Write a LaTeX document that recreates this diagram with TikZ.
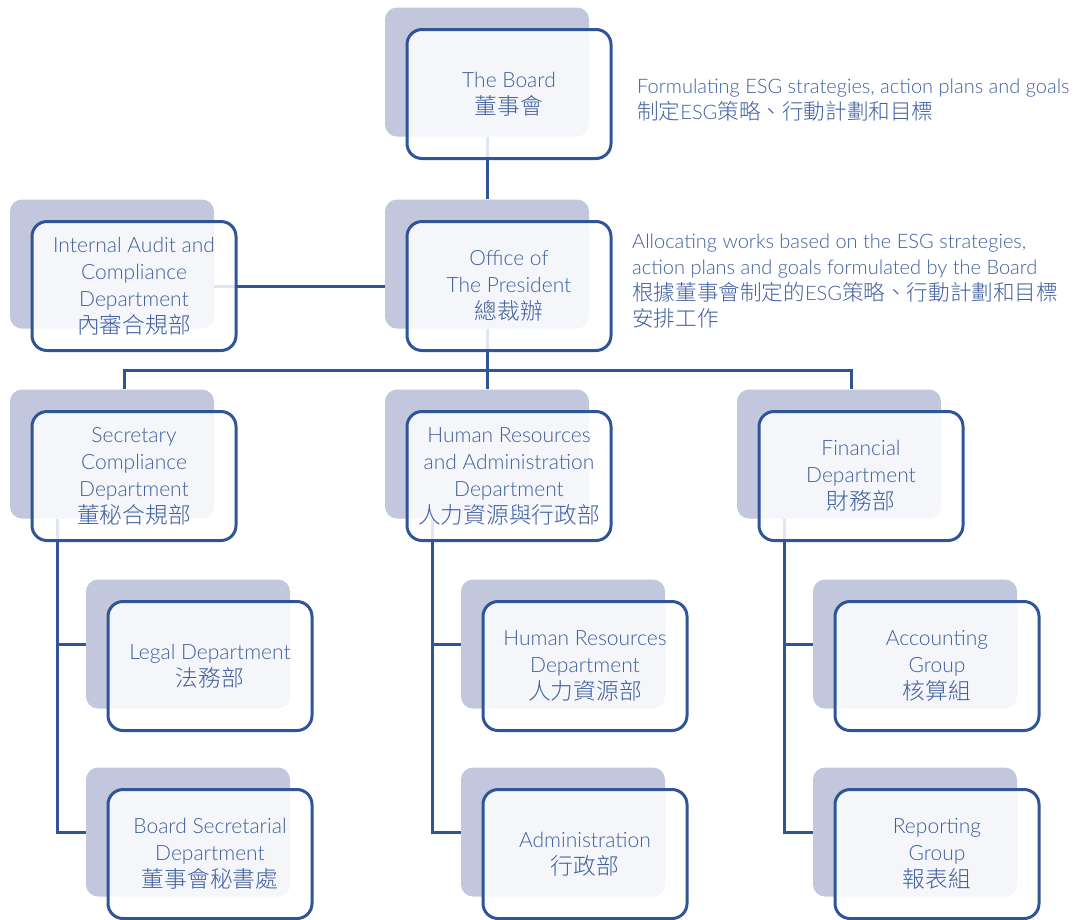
\documentclass[tikz,border=0pt]{standalone}
\usepackage{fontspec}
\setmainfont{Lato}[UprightFont=* Light]
\newfontfamily\cjk{Noto Sans CJK TC}[UprightFont=* Light,Scale=1.08]
\usepackage{xcolor}
\definecolor{navy}{HTML}{2F5597}
\definecolor{lavender}{HTML}{C2C7DD}
\definecolor{ink}{HTML}{3F5F9E}
\pgfdeclarelayer{bg}
\pgfsetlayers{bg,main}
\tikzset{
    shadowbox/.style={fill=lavender,rounded corners=12,
        minimum width=204,minimum height=129,inner sep=0},
    deptbox/.style={draw=navy,line width=3,fill=white,fill opacity=0.85,
        text opacity=1,rounded corners=15,minimum width=204,minimum height=129,
        inner sep=0,text=ink,align=center,font=\fontsize{21}{27}\selectfont},
    link/.style={draw=navy,line width=3},
    note/.style={text=ink,align=left,anchor=west,inner sep=0,
        font=\fontsize{20}{26}\selectfont},
}
\newcommand{\dept}[4] {
    \node[shadowbox] (#1-s) at (#2,#3) {};
    \node[deptbox] (#1) at ({#2+22},{#3+22}) {#4};
}

\begin{document}
\begin{tikzpicture}[x=1pt,y=-1pt]
        \useasboundingbox (0,0) rectangle (1083,919);
        \dept{board}{487}{72}{The Board\\{\cjk 董事會}}
        \dept{office}{487}{264}{Office of\\The President\\{\cjk 總裁辦}}
        \dept{audit}{112}{264}{Internal Audit and\\Compliance\\Department\\{\cjk 內審合規部}}
        \dept{sec}{112}{454}{Secretary\\Compliance\\Department\\{\cjk 董秘合規部}}
        \dept{hr}{487}{454}{Human Resources\\and Administration\\Department\\{\cjk 人力資源與行政部}}
        \dept{fin}{839}{454}{Financial\\Department\\{\cjk 財務部}}
        \dept{legal}{188}{644}{Legal Department\\{\cjk 法務部}}
        \dept{hrdept}{563}{644}{Human Resources\\Department\\{\cjk 人力資源部}}
        \dept{acct}{915}{644}{Accounting\\Group\\{\cjk 核算組}}
        \dept{boardsec}{188}{832}{Board Secretarial\\Department\\{\cjk 董事會秘書處}}
        \dept{admin}{563}{832}{Administration\\{\cjk 行政部}}
        \dept{report}{915}{832}{Reporting\\Group\\{\cjk 報表組}}

        % side notes
        \node[note] (goal) at (637,100)
            {Formulating ESG strategies, action plans and goals\\{\cjk 制定}ESG{\cjk 策略、行動計劃和目標}};
        \node[note] (task) at (632,281)
            {Allocating works based on the ESG strategies,\\action plans and goals formulated by the Board\\{\cjk 根據董事會制定的}ESG{\cjk 策略、行動計劃和目標}\\{\cjk 安排工作}};

        % connectors, under the boxes
        \begin{pgfonlayer}{bg}
        \coordinate (bus) at (487,370);
        \draw[link] (board-s) -- (office-s);
        \draw[link] (audit-s.east |- audit) -- (office-s.west |- audit);
        \draw[link] (office-s) -- (bus);
        \draw[link] ([xshift=12]sec-s.north) |- (bus) -| ([xshift=12]fin-s.north);
        \draw[link] (bus) -- (hr-s);
        \foreach \top/\a/\b in {sec/legal/boardsec,hr/hrdept/admin,fin/acct/report} {
            \draw[link] ([xshift=48]\top-s.south west) |- (\a-s.west);
            \draw[link] ([xshift=48]\top-s.south west) |- (\b-s.west);
        }
        \end{pgfonlayer}
    \end{tikzpicture}
\end{document}
